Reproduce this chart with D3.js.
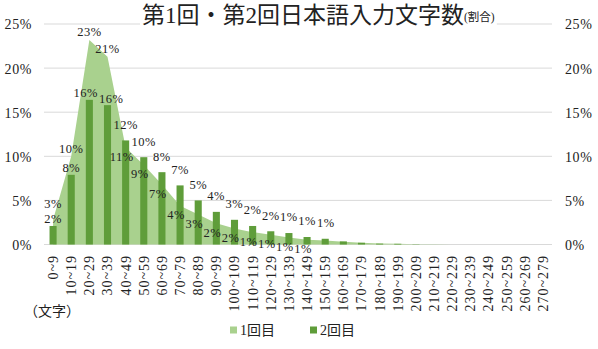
<!DOCTYPE html>
<html>
<head>
<meta charset="utf-8">
<script src="https://cdn.jsdelivr.net/npm/d3@7"></script>
<style>
  html, body { margin: 0; padding: 0; background: #fff; }
  svg { display: block; }
</style>
</head>
<body>
<svg id="chart" width="598" height="349"></svg>
<script>
// ---------------- data ----------------
const categories = ["0~9","10~19","20~29","30~39","40~49","50~59","60~69","70~79","80~89","90~99",
  "100~109","110~119","120~129","130~139","140~149","150~159","160~169","170~179","180~189","190~199",
  "200~209","210~219","220~229","230~239","240~249","250~259","260~269","270~279"];
// 1回目 (area), percent
const firstRound = [2.8, 10.0, 23.2, 21.3, 11.0, 9.0, 6.8, 4.4, 3.4, 2.4, 1.8, 1.4, 1.1, 0.8, 0.55, 0.45,
  0.3, 0.2, 0.12, 0.08, 0.04, 0.02, 0.01, 0, 0, 0, 0, 0];
// 2回目 (bars), percent
const secondRound = [2.1, 7.9, 16.4, 15.8, 11.8, 9.9, 8.2, 6.7, 5.0, 3.7, 2.8, 2.1, 1.5, 1.3, 0.85, 0.65,
  0.35, 0.2, 0.1, 0.08, 0.03, 0, 0, 0, 0, 0, 0, 0];
const yTicks = [0, 5, 10, 15, 20, 25];
const seriesNames = ["1回目", "2回目"];
const titleMain = "第1回・第2回日本語入力文字数";
const titleSub = "(割合)";
const axisUnit = "（文字）";

// ---------------- style ----------------
const colArea = "#a9d18e";
const colBar = "#5f9d3a";
const numFont = "'Liberation Serif', 'Noto Sans CJK JP', serif";
const cjkFont = "'Liberation Serif', 'Noto Sans CJK JP', sans-serif";

const svg = d3.select("#chart");
const plot = { left: 44, right: 552, top: 24, bottom: 244.5 };

const x = d3.scaleBand().domain(categories).range([plot.left, plot.right]).padding(0);
const y = d3.scaleLinear().domain([0, 25]).range([plot.bottom, plot.top]);
const cx = c => x(c) + x.bandwidth() / 2;
const barW = x.bandwidth() * 0.39;
const fmt = v => Math.round(v) + "%";

// gridlines
svg.append("g").selectAll("line").data(yTicks).join("line")
  .attr("x1", plot.left).attr("x2", plot.right)
  .attr("y1", d => y(d)).attr("y2", d => y(d))
  .attr("stroke", "#d9d9d9").attr("stroke-width", 1);

// left axis labels
const leftAxis = d3.axisLeft(y).tickValues(yTicks).tickFormat(d => d + "%").tickSize(0).tickPadding(0);
const gl = svg.append("g").attr("transform", `translate(32,0)`).call(leftAxis);
gl.select(".domain").remove();
gl.selectAll("text").attr("font-family", numFont).attr("font-size", 14)
  .attr("letter-spacing", 0.6).attr("fill", "#222").attr("dy", "0.35em");

// right axis labels
const rightAxis = d3.axisRight(y).tickValues(yTicks).tickFormat(d => d + "%").tickSize(0).tickPadding(0);
const gr = svg.append("g").attr("transform", `translate(565,0)`).call(rightAxis);
gr.select(".domain").remove();
gr.selectAll("text").attr("font-family", numFont).attr("font-size", 14)
  .attr("letter-spacing", 0.6).attr("fill", "#222").attr("dy", "0.35em");

// area (1回目)
const area = d3.area()
  .x((d, i) => cx(categories[i]))
  .y0(y(0))
  .y1(d => y(d));
svg.append("path").datum(firstRound).attr("d", area).attr("fill", colArea);

// bars (2回目)
svg.append("g").selectAll("rect").data(secondRound).join("rect")
  .attr("x", (d, i) => cx(categories[i]) - barW / 2)
  .attr("width", barW)
  .attr("y", d => y(d))
  .attr("height", d => y(0) - y(d))
  .attr("fill", colBar);

// data labels
const labelG = svg.append("g").attr("font-family", numFont).attr("font-size", 12.5)
  .attr("letter-spacing", 0.5).attr("fill", "#222").attr("text-anchor", "middle");

const barLabelY = i => y(secondRound[i]) - (firstRound[i] > secondRound[i] ? 7 : 16);

// bar labels
const bl = labelG.selectAll("text.bl").data(secondRound.map((v, i) => ({ v, i })).filter(d => Math.round(d.v) > 0))
  .join("text").attr("class", "bl")
  .attr("x", d => cx(categories[d.i]))
  .attr("y", d => barLabelY(d.i))
  .attr("dy", "0.35em")
  .text(d => fmt(d.v));

// area labels
labelG.selectAll("text.al").data(firstRound.map((v, i) => ({ v, i })).filter(d => Math.round(d.v) > 0))
  .join("text").attr("class", "al")
  .attr("x", d => cx(categories[d.i]) - (d.v > secondRound[d.i] ? 0 : 4))
  .attr("y", d => d.v > secondRound[d.i]
      ? Math.min(y(d.v) - 8, barLabelY(d.i) - 15)
      : y(d.v) + 9)
  .attr("dy", "0.35em")
  .text(d => fmt(d.v));

// separate neighbouring bar labels on the same row that collide
const blNodes = bl.nodes();
for (let k = 1; k < blNodes.length; k++) {
  const a = blNodes[k - 1], b = blNodes[k];
  const ya = +a.getAttribute("y"), yb = +b.getAttribute("y");
  if (Math.abs(ya - yb) < 10) {
    const ba = a.getBBox(), bb = b.getBBox();
    const ov = ba.x + ba.width + 1 - bb.x;
    if (ov > 0) {
      a.setAttribute("x", +a.getAttribute("x") - ov / 2);
      b.setAttribute("x", +b.getAttribute("x") + ov / 2);
    }
  }
}

// x-axis category labels (rotated)
svg.append("g").selectAll("text").data(categories).join("text")
  .attr("transform", d => `translate(${cx(d)},255) rotate(-90)`)
  .attr("text-anchor", "end")
  .attr("dy", "0.35em")
  .attr("font-family", numFont).attr("font-size", 14).attr("letter-spacing", 1)
  .attr("fill", "#222")
  .text(d => d);

// axis unit
svg.append("text").attr("x", 24).attr("y", 311).attr("dy", "0.35em")
  .attr("font-family", cjkFont).attr("font-size", 14).attr("fill", "#222")
  .text(axisUnit);

// title
const tg = svg.append("g");
const bg = tg.append("rect").attr("fill", "#fff");
const tt = tg.append("text").attr("x", 142).attr("y", 23)
  .attr("font-family", cjkFont).attr("font-size", 23).attr("fill", "#222");
tt.append("tspan").text(titleMain);
tt.append("tspan").attr("font-size", 11.5).attr("dy", -2).text(titleSub);
const tb = tt.node().getBBox();
bg.attr("x", tb.x - 2).attr("y", tb.y).attr("width", tb.width + 4).attr("height", tb.height);

// legend
const legend = svg.append("g").attr("font-family", cjkFont).attr("font-size", 14).attr("fill", "#222");
const legendStart = 230, legendStep = 80;
const items = legend.selectAll("g").data(seriesNames).join("g")
  .attr("transform", (d, i) => `translate(${legendStart + i * legendStep},330)`);
items.append("rect").attr("width", 7).attr("height", 7).attr("y", -3.5)
  .attr("fill", (d, i) => i === 0 ? colArea : colBar);
items.append("text").attr("x", 10).attr("dy", "0.35em").text(d => d);
</script>
</body>
</html>
